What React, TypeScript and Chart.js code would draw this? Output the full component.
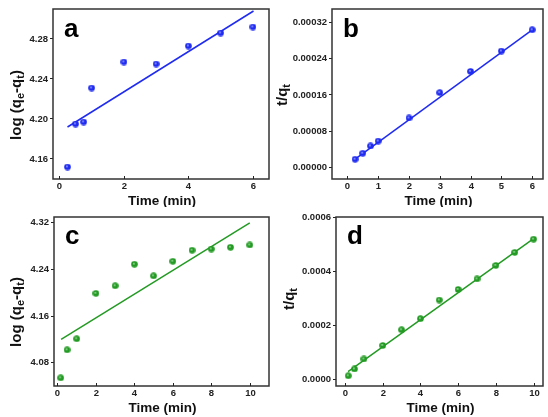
import React, { useEffect, useRef } from "react";
import { Chart, registerables } from "chart.js";
Chart.register(...registerables);

// ---- data ----
const timeA = [0.25, 0.5, 0.75, 1, 2, 3, 4, 5, 6];
const logA = [4.152, 4.195, 4.197, 4.231, 4.257, 4.255, 4.273, 4.286, 4.292];
const fitTimeA = [0.25, 6.02];
const fitLogA = [4.192, 4.308];

const timeB = [0.25, 0.5, 0.75, 1, 2, 3, 4, 5, 6];
const tqB = [0.0000177, 0.000031, 0.000047, 0.000058, 0.000109, 0.000165, 0.000212, 0.000257, 0.000304];
const fitTimeB = [0.25, 6];
const fitTqB = [0.000018, 0.000304];

const timeC = [0.17, 0.5, 1, 2, 3, 4, 5, 6, 7, 8, 9, 10];
const logC = [4.054, 4.102, 4.121, 4.199, 4.212, 4.249, 4.229, 4.254, 4.273, 4.275, 4.278, 4.282];
const fitTimeC = [0.19, 10];
const fitLogC = [4.12, 4.32];

const timeD = [0.17, 0.5, 1, 2, 3, 4, 5, 6, 7, 8, 9, 10];
const tqD = [0.0000128, 0.000038, 0.000075, 0.000125, 0.000183, 0.000224, 0.000293, 0.000332, 0.000371, 0.000421, 0.000469, 0.000518];
const fitTimeD = [0.16, 10];
const fitTqD = [0.000028, 0.00052];

const xTicksA = [0, 2, 4, 6];
const yTicksA = [4.16, 4.2, 4.24, 4.28];
const xTicksB = [0, 1, 2, 3, 4, 5, 6];
const yTicksB = [0, 0.00008, 0.00016, 0.00024, 0.00032];
const xTicksC = [0, 2, 4, 6, 8, 10];
const yTicksC = [4.08, 4.16, 4.24, 4.32];
const xTicksD = [0, 2, 4, 6, 8, 10];
const yTicksD = [0, 0.0002, 0.0004, 0.0006];

const FONT = "'Liberation Sans', Arial, sans-serif";
const BLUE = "#1f2bf0";
const GREEN = "#239a23";

function makeBall(color: string, light: string) {
  const c = document.createElement("canvas");
  c.width = 7;
  c.height = 7;
  const g = c.getContext("2d")!;
  const grad = g.createRadialGradient(2.8, 2.8, 0.1, 3.5, 3.5, 3.5);
  grad.addColorStop(0, light);
  grad.addColorStop(0.35, color);
  grad.addColorStop(1, color);
  g.fillStyle = grad;
  g.beginPath();
  g.arc(3.5, 3.5, 3.3, 0, Math.PI * 2);
  g.fill();
  return c;
}

type Panel = {
  letter: string;
  left: number;
  top: number;
  w: number;
  h: number;
  area: { l: number; t: number; r: number; b: number };
  xMin: number;
  xMax: number;
  yMin: number;
  yMax: number;
  xTicks: number[];
  yTicks: number[];
  decimals: number;
  yTitle: [string, boolean][];
  yTitleX: number;
  yTitleY: number;
  color: string;
  light: string;
  xs: number[];
  ys: number[];
  fx: number[];
  fy: number[];
};

const logTitle: [string, boolean][] = [
  ["log (q", false],
  ["e", true],
  ["-q", false],
  ["t", true],
  [")", false],
];
const tqTitle: [string, boolean][] = [
  ["t/q", false],
  ["t", true],
];

const panels: Panel[] = [
  {
    letter: "a", left: 0, top: 0, w: 274, h: 207,
    area: { l: 53, t: 9, r: 269, b: 179 },
    xMin: -0.2, xMax: 6.5, yMin: 4.14, yMax: 4.31,
    xTicks: xTicksA, yTicks: yTicksA, decimals: 2,
    yTitle: logTitle, yTitleX: 17, yTitleY: 105,
    color: BLUE, light: "#c8ceff",
    xs: timeA, ys: logA, fx: fitTimeA, fy: fitLogA,
  },
  {
    letter: "b", left: 274, top: 0, w: 274, h: 207,
    area: { l: 58, t: 9, r: 269, b: 179 },
    xMin: -0.5, xMax: 6.35, yMin: -0.000026, yMax: 0.00035,
    xTicks: xTicksB, yTicks: yTicksB, decimals: 5,
    yTitle: tqTitle, yTitleX: 9, yTitleY: 95,
    color: BLUE, light: "#c8ceff",
    xs: timeB, ys: tqB, fx: fitTimeB, fy: fitTqB,
  },
  {
    letter: "c", left: 0, top: 207, w: 274, h: 210,
    area: { l: 54, t: 10, r: 269, b: 179 },
    xMin: -0.18, xMax: 11, yMin: 4.04, yMax: 4.33,
    xTicks: xTicksC, yTicks: yTicksC, decimals: 2,
    yTitle: logTitle, yTitleX: 17, yTitleY: 105,
    color: GREEN, light: "#c4f2c4",
    xs: timeC, ys: logC, fx: fitTimeC, fy: fitLogC,
  },
  {
    letter: "d", left: 274, top: 207, w: 274, h: 210,
    area: { l: 62, t: 10, r: 269, b: 179 },
    xMin: -0.48, xMax: 10.5, yMin: -0.000025, yMax: 0.0006,
    xTicks: xTicksD, yTicks: yTicksD, decimals: 4,
    yTitle: tqTitle, yTitleX: 16, yTitleY: 92,
    color: GREEN, light: "#c4f2c4",
    xs: timeD, ys: tqD, fx: fitTimeD, fy: fitTqD,
  },
];

function PanelChart({ p }: { p: Panel }) {
  const ref = useRef<HTMLCanvasElement>(null);
  useEffect(() => {
    const ball = makeBall(p.color, p.light);
    const deco = {
      id: "deco" + p.letter,
      afterDraw(chart: any) {
        const { ctx, chartArea: a, scales } = chart;
        ctx.save();
        // frame
        ctx.strokeStyle = "#333";
        ctx.lineWidth = 1.5;
        ctx.strokeRect(a.left, a.top, a.right - a.left, a.bottom - a.top);
        // inward x ticks + x tick labels
        ctx.lineWidth = 1;
        ctx.strokeStyle = "#222";
        ctx.fillStyle = "#222";
        ctx.font = `bold 9.5px ${FONT}`;
        ctx.textAlign = "center";
        ctx.textBaseline = "middle";
        for (const t of scales.x.ticks) {
          const px = Math.round(scales.x.getPixelForValue(t.value)) + 0.5;
          ctx.beginPath();
          ctx.moveTo(px, a.bottom);
          ctx.lineTo(px, a.bottom - 3);
          ctx.stroke();
          ctx.fillText(String(t.value), px, a.bottom + 7.5);
        }
        // panel letter
        ctx.fillStyle = "#000";
        ctx.font = `bold 26px ${FONT}`;
        ctx.textAlign = "left";
        ctx.textBaseline = "alphabetic";
        ctx.fillText(p.letter, a.left + 11, 37);
        // x title
        ctx.font = `bold 13.5px ${FONT}`;
        ctx.textAlign = "center";
        ctx.textBaseline = "middle";
        ctx.fillStyle = "#111";
        ctx.fillText("Time (min)", (a.left + a.right) / 2 + 1, 201);
        // y title with subscripts
        ctx.translate(p.yTitleX, p.yTitleY);
        ctx.rotate(-Math.PI / 2);
        ctx.textAlign = "left";
        ctx.textBaseline = "middle";
        const mainF = `bold 15px ${FONT}`;
        const subF = `bold 11px ${FONT}`;
        let total = 0;
        for (const [s, sub] of p.yTitle) {
          ctx.font = sub ? subF : mainF;
          total += ctx.measureText(s).width;
        }
        let x = -total / 2;
        for (const [s, sub] of p.yTitle) {
          ctx.font = sub ? subF : mainF;
          ctx.fillText(s, x, sub ? 4 : 0);
          x += ctx.measureText(s).width;
        }
        ctx.restore();
      },
    };
    const chart = new Chart(ref.current!, {
      type: "scatter",
      data: {
        datasets: [
          {
            data: p.fx.map((x, i) => ({ x, y: p.fy[i] })),
            showLine: true,
            borderColor: p.color,
            borderWidth: 1.5,
            pointRadius: 0,
            order: 2,
          },
          {
            data: p.xs.map((x, i) => ({ x, y: p.ys[i] })),
            pointStyle: ball as any,
            pointRadius: 3.5,
            order: 1,
          },
        ],
      },
      options: {
        animation: false,
        responsive: false,
        events: [],
        layout: {
          padding: { left: 0, top: p.area.t, right: p.w - p.area.r, bottom: 0 },
        },
        plugins: { legend: { display: false }, tooltip: { enabled: false } },
        scales: {
          x: {
            type: "linear",
            min: p.xMin,
            max: p.xMax,
            grid: { display: false },
            border: { display: false },
            afterBuildTicks: (s: any) => {
              s.ticks = p.xTicks.map((v) => ({ value: v }));
            },
            afterFit: (s: any) => {
              s.height = p.h - p.area.b;
            },
            ticks: { display: false },
          },
          y: {
            type: "linear",
            min: p.yMin,
            max: p.yMax,
            grid: {
              display: true,
              drawOnChartArea: false,
              drawTicks: true,
              tickLength: 3,
              color: "#222",
            },
            border: { display: false },
            afterBuildTicks: (s: any) => {
              s.ticks = p.yTicks.map((v) => ({ value: v }));
            },
            afterFit: (s: any) => {
              s.width = p.area.l;
            },
            ticks: {
              padding: 2,
              color: "#222",
              font: { family: FONT, size: 9.5, weight: "bold" },
              callback: (v: any) => Number(v).toFixed(p.decimals),
            },
          },
        },
      },
      plugins: [deco],
    });
    return () => chart.destroy();
  }, [p]);
  return (
    <canvas
      ref={ref}
      width={p.w}
      height={p.h}
      style={{ position: "absolute", left: p.left, top: p.top, width: p.w, height: p.h }}
    />
  );
}

export default function App() {
  return (
    <div style={{ position: "absolute", left: 0, top: 0, width: 548, height: 417, background: "#fff" }}>
      {panels.map((p) => (
        <PanelChart key={p.letter} p={p} />
      ))}
    </div>
  );
}
